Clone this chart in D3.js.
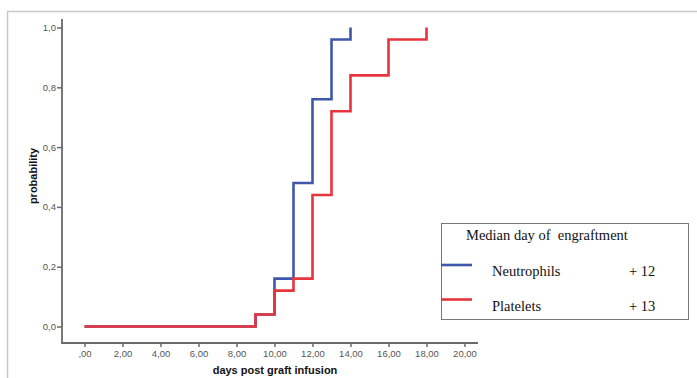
<!DOCTYPE html>
<html>
<head>
<meta charset="utf-8">
<script src="https://cdn.jsdelivr.net/npm/d3@7"></script>
<style>
  body { margin: 0; background: #fff; }
</style>
</head>
<body>
<div id="chart"></div>
<script>
var svgWidth = 697;
var svgHeight = 378;

// data
var neutroDays = [0, 9, 10, 11, 12, 13, 14];
var neutroProb = [0, 0.04, 0.16, 0.48, 0.76, 0.96, 1.0];
var plateDays = [0, 9, 10, 11, 12, 13, 14, 16, 18];
var plateProb = [0, 0.04, 0.12, 0.16, 0.44, 0.72, 0.84, 0.96, 1.0];

var xTicks = [0, 2, 4, 6, 8, 10, 12, 14, 16, 18, 20];
var xTickLabels = [",00", "2,00", "4,00", "6,00", "8,00", "10,00", "12,00", "14,00", "16,00", "18,00", "20,00"];
var yTicks = [0, 0.2, 0.4, 0.6, 0.8, 1.0];
var yTickLabels = ["0,0", "0,2", "0,4", "0,6", "0,8", "1,0"];

var legendTitle = "Median day of  engraftment";
var seriesNames = ["Neutrophils", "Platelets"];
var medians = ["+ 12", "+ 13"];
var colors = ["#3f57aa", "#e8343c"];

var sans = "'Liberation Sans', Arial, sans-serif";
var serif = "'Liberation Serif', 'Times New Roman', serif";

var svg = d3.select("#chart")
    .append("svg")
    .attr("width", svgWidth)
    .attr("height", svgHeight);

// outer frame (top and left edges only visible)
svg.append("line")
    .attr("x1", 7).attr("y1", 11.5).attr("x2", 697).attr("y2", 11.5)
    .attr("stroke", "#c8c8c8").attr("stroke-width", 1.5);
svg.append("line")
    .attr("x1", 7.5).attr("y1", 11).attr("x2", 7.5).attr("y2", 378)
    .attr("stroke", "#c8c8c8").attr("stroke-width", 1.5);

var x = d3.scaleLinear().domain([0, 20]).range([84.5, 464.5]);
var y = d3.scaleLinear().domain([0, 1]).range([326.5, 27.5]);

var axisColor = "#6a6a6a";

var yAxis = d3.axisLeft(y)
    .tickValues(yTicks)
    .tickFormat((d, i) => yTickLabels[i])
    .tickSize(5)
    .tickSizeOuter(0);

var gy = svg.append("g")
    .attr("transform", "translate(62,0)")
    .call(yAxis);
gy.select(".domain").remove();
gy.selectAll(".tick line").attr("stroke", axisColor).attr("stroke-width", 1.5);
gy.selectAll(".tick text")
    .attr("x", -6)
    .attr("fill", "#555")
    .style("font-size", "9.5px")
    .style("font-family", sans);

var xAxis = d3.axisBottom(x)
    .tickValues(xTicks)
    .tickFormat((d, i) => xTickLabels[i])
    .tickSize(4)
    .tickSizeOuter(0);

var gx = svg.append("g")
    .attr("transform", "translate(0,343)")
    .call(xAxis);
gx.select(".domain").remove();
gx.selectAll(".tick line").attr("stroke", axisColor).attr("stroke-width", 1.5);
gx.selectAll(".tick text")
    .attr("y", 7)
    .attr("fill", "#555")
    .style("font-size", "9.5px")
    .style("font-family", sans);

// axis lines
svg.append("line")
    .attr("x1", 62).attr("y1", 19).attr("x2", 62).attr("y2", 343.5)
    .attr("stroke", axisColor).attr("stroke-width", 1.8);
svg.append("line")
    .attr("x1", 61).attr("y1", 343).attr("x2", 478).attr("y2", 343)
    .attr("stroke", axisColor).attr("stroke-width", 1.8);

var stepLine = d3.line()
    .x(d => x(d[0]))
    .y(d => y(d[1]))
    .curve(d3.curveStepAfter);

var neutro = d3.zip(neutroDays, neutroProb);
var plate = d3.zip(plateDays, plateProb);

svg.append("path")
    .datum(neutro)
    .attr("d", stepLine)
    .attr("fill", "none")
    .attr("stroke", colors[0])
    .attr("stroke-width", 2.6);

svg.append("path")
    .datum(plate)
    .attr("d", stepLine)
    .attr("fill", "none")
    .attr("stroke", colors[1])
    .attr("stroke-width", 2.6);

// axis titles
svg.append("text")
    .attr("x", 275)
    .attr("y", 374)
    .attr("text-anchor", "middle")
    .style("font-family", sans)
    .style("font-size", "11px")
    .style("font-weight", "bold")
    .attr("fill", "#111")
    .text("days post graft infusion");

svg.append("text")
    .attr("transform", "translate(37,176) rotate(-90)")
    .attr("text-anchor", "middle")
    .style("font-family", sans)
    .style("font-size", "11px")
    .style("font-weight", "bold")
    .attr("fill", "#111")
    .text("probability");

// legend
var legend = svg.append("g");
legend.append("rect")
    .attr("x", 441.5).attr("y", 223.5)
    .attr("width", 247).attr("height", 96)
    .attr("fill", "#fff")
    .attr("stroke", "#777")
    .attr("stroke-width", 1);

legend.append("text")
    .attr("x", 466)
    .attr("y", 240)
    .style("font-family", serif)
    .style("font-size", "14.5px")
    .style("white-space", "pre")
    .attr("fill", "#111")
    .text(legendTitle);

var rowY = [265, 299.5];
var textY = [276, 311];

seriesNames.forEach(function (name, i) {
    legend.append("line")
        .attr("x1", 441).attr("x2", 472)
        .attr("y1", rowY[i]).attr("y2", rowY[i])
        .attr("stroke", colors[i])
        .attr("stroke-width", 2.6);
    legend.append("text")
        .attr("x", 492)
        .attr("y", textY[i])
        .style("font-family", serif)
        .style("font-size", "14.5px")
        .attr("fill", "#111")
        .text(name);
    legend.append("text")
        .attr("x", 629)
        .attr("y", textY[i])
        .style("font-family", serif)
        .style("font-size", "14.5px")
        .attr("fill", "#111")
        .text(medians[i]);
});
</script>
</body>
</html>
